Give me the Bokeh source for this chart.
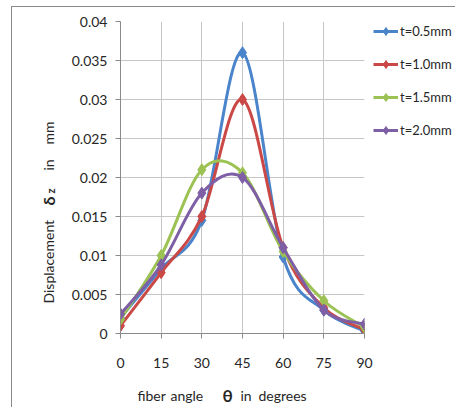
import numpy as np
from bokeh.plotting import figure
from bokeh.layouts import row, column
from bokeh.models import (ColumnDataSource, FixedTicker, Legend, LegendItem, Label, Range1d)
from bokeh.embed import file_html
from bokeh.resources import INLINE

angles = [0, 15, 30, 45, 60, 75, 90]
t05 = [0.002, 0.0083, 0.0145, 0.036, 0.0098, 0.003, 0.0003]
t10 = [0.001, 0.0078, 0.015, 0.030, 0.011, 0.0033, 0.0005]
t15 = [0.0018, 0.010, 0.021, 0.0206, 0.0105, 0.0042, 0.0008]
t20 = [0.0025, 0.0088, 0.018, 0.020, 0.011, 0.003, 0.0012]
series_names = ["t=0.5mm", "t=1.0mm", "t=1.5mm", "t=2.0mm"]
series_vals = [t05, t10, t15, t20]
colors = ["#4A84CA", "#CA4946", "#9BC252", "#7E5FA6"]
y_ticks = [0, 0.005, 0.01, 0.015, 0.02, 0.025, 0.03, 0.035, 0.04]
y_tick_labels = ["0", "0.005", "0.01", "0.015", "0.02", "0.025", "0.03", "0.035", "0.04"]

FONT = "Lato, 'DejaVu Sans'"
TXT = "#262626"
ROW_H = 373
TOP, BOTTOM = 14, 47          # main plot borders (frames of the row are aligned)


def blank(width, height, y_range):
    f = figure(width=width, height=height, output_backend="svg", toolbar_location=None,
               x_range=(0, width), y_range=y_range,
               x_axis_location=None, y_axis_location=None,
               min_border=0, min_border_left=0, min_border_right=0,
               min_border_top=0, min_border_bottom=0)
    f.grid.visible = False
    f.outline_line_color = None
    f.background_fill_color = "white"
    f.border_fill_color = "white"
    return f


# ---------------- main plot ----------------
p = figure(width=311, height=ROW_H, output_backend="svg", toolbar_location=None,
           x_range=(0, 90), y_range=(0, 0.04),
           min_border_left=58, min_border_right=9, min_border_top=TOP,
           min_border_bottom=BOTTOM)
p.outline_line_color = None
p.background_fill_color = "white"
p.border_fill_color = "white"

for ax in (p.xaxis[0], p.yaxis[0]):
    ax.axis_line_color = "#8a8a8a"
    ax.major_tick_line_color = "#8a8a8a"
    ax.minor_tick_line_color = None
    ax.major_tick_out = 5
    ax.major_tick_in = 0
    ax.major_label_text_font = FONT
    ax.major_label_text_font_size = "14px"
    ax.major_label_text_color = TXT

p.xaxis.ticker = FixedTicker(ticks=angles)
p.yaxis.ticker = FixedTicker(ticks=y_ticks)
p.yaxis.major_label_overrides = {v: s for v, s in zip(y_ticks, y_tick_labels)}
p.xaxis.major_label_standoff = 19
p.yaxis.major_label_standoff = 8

p.xgrid.grid_line_color = "#c6c6c6"
p.ygrid.grid_line_color = "#c6c6c6"
p.xgrid.ticker = FixedTicker(ticks=angles)
p.ygrid.ticker = FixedTicker(ticks=y_ticks)

for vals, col in zip(series_vals, colors):
    xs = np.array(angles, dtype=float)
    ys = np.array(vals, dtype=float)
    n = len(xs)
    x0, y0, x1, y1, cx0, cy0, cx1, cy1 = ([] for _ in range(8))
    for i in range(n - 1):
        pxm = xs[i - 1] if i > 0 else xs[i]
        pym = ys[i - 1] if i > 0 else ys[i]
        pxp = xs[i + 2] if i + 2 < n else xs[i + 1]
        pyp = ys[i + 2] if i + 2 < n else ys[i + 1]
        x0.append(xs[i]); y0.append(ys[i]); x1.append(xs[i + 1]); y1.append(ys[i + 1])
        cx0.append(xs[i] + (xs[i + 1] - pxm) / 6); cy0.append(ys[i] + (ys[i + 1] - pym) / 6)
        cx1.append(xs[i + 1] - (pxp - xs[i]) / 6); cy1.append(ys[i + 1] - (pyp - ys[i]) / 6)
    src = ColumnDataSource(dict(x0=x0, y0=y0, x1=x1, y1=y1, cx0=cx0, cy0=cy0, cx1=cx1, cy1=cy1))
    p.bezier(x0="x0", y0="y0", x1="x1", y1="y1", cx0="cx0", cy0="cy0", cx1="cx1", cy1="cy1",
             source=src, line_color=col, line_width=3, line_cap="round")
    p.scatter(angles, vals, marker="diamond", size=12, fill_color=col, line_color=col)

# ---------------- y title (frame aligned with the main frame) ----------------
yf = blank(50, ROW_H, Range1d(ROW_H - BOTTOM, TOP))


def ylab(text, y_start, x_base=36, size="14px", style="normal"):
    yf.add_layout(Label(x=x_base, y=y_start, text=text, angle=np.pi / 2, text_align="left",
                        text_baseline="alphabetic", text_font=FONT, text_font_size=size,
                        text_font_style=style, text_color=TXT))


ylab("Displacement", 296)
ylab("δ", 198, size="16px", style="bold")
ylab("z", 186, x_base=38, size="11px", style="bold")
ylab("in", 163)
ylab("mm", 137)

# ---------------- legend ----------------
lf = blank(82, ROW_H, Range1d(ROW_H - BOTTOM, TOP))
lf.extra_y_ranges = {"off": Range1d(1, 2)}
items = []
for name, vals, col in zip(series_names, series_vals, colors):
    ln = lf.line(angles, vals, line_color=col, line_width=3, y_range_name="off")
    mk = lf.scatter(angles, vals, marker="diamond", size=10, fill_color=col, line_color=col,
                    y_range_name="off")
    items.append(LegendItem(label=name, renderers=[ln, mk]))
legend = Legend(items=items, location="top_left", padding=2, margin=0, spacing=13,
                glyph_width=25, glyph_height=20, label_height=20, label_standoff=2,
                label_text_font=FONT, label_text_font_size="13px", label_text_color=TXT,
                border_line_color=None, background_fill_alpha=0)
lf.add_layout(legend)

# ---------------- x title ----------------
xf = blank(443, 27, Range1d(27, 0))


def xlab(text, x, size="14px", style="normal"):
    xf.add_layout(Label(x=x, y=15, text=text, text_align="left",
                        text_baseline="alphabetic", text_font=FONT, text_font_size=size,
                        text_font_style=style, text_color=TXT))


xlab("fiber", 125)
xlab("angle", 158)
xlab("θ", 210, size="17px", style="bold")
xlab("in", 228)
xlab("degrees", 246)

layout = column(row(yf, p, lf, spacing=0), xf, spacing=0)
layout.margin = (7, 0, 0, 12)
layout.styles = {"outline": "1px solid #8a8a8a"}

open("out.html", "w").write(file_html(layout, INLINE))
